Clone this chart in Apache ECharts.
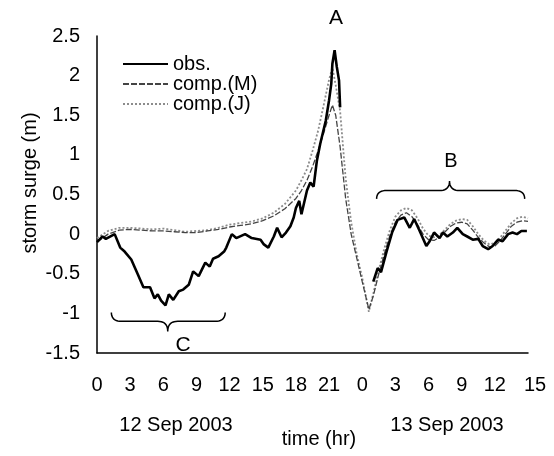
<!DOCTYPE html>
<html>
<head>
<meta charset="utf-8">
<script src="https://cdn.jsdelivr.net/npm/echarts@6/dist/echarts.min.js"></script>
<style>
  html, body { margin: 0; padding: 0; background: #fff; }
  #chart { width: 554px; height: 456px; }
</style>
</head>
<body>
<div id="chart"></div>
<script>
// hours counted from 0:00 on 12 Sep 2003 (24 = 0:00 on 13 Sep)
const obsHours = [0, 0.5, 0.8, 1.6, 2.1, 2.5, 3.1, 3.7, 4.2, 4.8, 5.2, 5.5, 5.8, 6.2, 6.5, 6.9, 7.4, 7.8, 8.3, 8.7,
  9.2, 9.8, 10.2, 10.5, 11.0, 11.5, 11.7, 12.2, 12.6, 13.4, 14.0, 14.8, 15.1, 15.5, 16.0, 16.3, 16.7, 17.1, 17.5, 17.8,
  18.0, 18.3, 18.5, 19.0, 19.3, 19.6, 19.9, 20.2, 20.7, 21.0, 21.2, 21.3, 21.5, 21.7, 21.9, 22.0, 23.5,
  25.0, 25.4, 25.7, 26.2, 26.7, 27.2, 27.8, 28.3, 28.7, 29.2, 29.8, 30.1, 30.5, 31.0, 31.3, 31.7, 32.2, 32.6,
  33.1, 33.5, 34.0, 34.5, 34.9, 35.4, 35.8, 36.3, 36.7, 37.2, 37.6, 38.0, 38.4, 38.9];
const obsValues = [-0.1, -0.03, -0.06, 0, -0.17, -0.22, -0.32, -0.51, -0.67, -0.67, -0.81, -0.76, -0.84, -0.9, -0.76, -0.83, -0.72, -0.7, -0.64, -0.47,
  -0.53, -0.36, -0.41, -0.31, -0.28, -0.22, -0.17, 0.0, -0.05, 0, -0.05, -0.07, -0.13, -0.17, -0.03, 0.08, -0.04, 0.02, 0.1, 0.21,
  0.33, 0.42, 0.25, 0.55, 0.65, 0.6, 0.93, 1.14, 1.43, 1.69, 1.9, 2.15, 2.32, 2.11, 1.94, 1.6, null,
  -0.6, -0.43, -0.48, -0.22, 0.02, 0.18, 0.21, 0.08, 0.19, 0.04, -0.15, -0.09, 0.02, -0.05, 0.02, -0.03, 0.02, 0.08,
  0, -0.03, -0.07, -0.06, -0.15, -0.19, -0.15, -0.07, -0.09, 0, 0.02, 0, 0.04, 0.04];

const compHours = [0, 1, 2, 3, 4, 5, 6, 7, 8, 9, 10, 11, 12, 13, 14, 15, 16, 17, 18, 18.5, 19, 19.5, 20, 20.5, 21, 21.3, 21.6,
  22, 22.5, 23, 23.5, 24, 24.6, 25, 25.5, 26, 26.5, 27, 27.5, 28, 28.5, 29, 29.5, 30, 30.5, 31, 31.5, 32, 32.5,
  33, 33.5, 34, 34.5, 35, 35.5, 36, 36.5, 37, 37.5, 38, 38.5, 39];
const compM = [-0.1, 0.0, 0.05, 0.06, 0.05, 0.04, 0.04, 0.03, 0.02, 0.02, 0.04, 0.06, 0.09, 0.11, 0.13, 0.17, 0.23, 0.32, 0.45, 0.55, 0.68, 0.85, 1.05, 1.27, 1.5, 1.63, 1.5,
  1.1, 0.45, 0.0, -0.3, -0.6, -0.95, -0.78, -0.5, -0.25, -0.02, 0.15, 0.24, 0.27, 0.22, 0.12, 0.0, -0.07, -0.08, -0.04, 0.03, 0.1, 0.14,
  0.15, 0.13, 0.05, -0.04, -0.11, -0.16, -0.15, -0.08, 0.01, 0.1, 0.15, 0.17, 0.16];
const compJ = [-0.05, 0.04, 0.08, 0.08, 0.07, 0.06, 0.07, 0.05, 0.03, 0.04, 0.05, 0.08, 0.12, 0.14, 0.16, 0.2, 0.27, 0.38, 0.55, 0.68, 0.82, 1.05, 1.3, 1.62, 1.95, 2.1, 1.88,
  1.55, 0.7, 0.15, -0.25, -0.55, -0.98, -0.75, -0.45, -0.18, 0.05, 0.22, 0.3, 0.33, 0.3, 0.2, 0.07, -0.02, -0.04, -0.01, 0.06, 0.13, 0.17,
  0.19, 0.18, 0.1, 0.0, -0.08, -0.13, -0.11, -0.04, 0.05, 0.14, 0.2, 0.22, 0.2];

const seriesNames = ['obs.', 'comp.(M)', 'comp.(J)'];
const dayLabels = ['12 Sep 2003', '13 Sep 2003'];
// brace spans: [start hour, centre hour, end hour, level, half height]
const braceB = [25.3, 31.9, 38.7, 0.55, 0.15];
const braceC = [1.3, 6.4, 11.6, -1.1, 0.16];

const FONT = 'Liberation Sans, Arial, sans-serif';
const pairs = (xs, ys) => xs.map((x, i) => [x, ys[i] == null ? '-' : ys[i]]);

const chart = echarts.init(document.getElementById('chart'));
chart.setOption({
  animation: false,
  textStyle: { fontFamily: FONT, color: '#000' },
  grid: { left: 97, right: 26, top: 36, bottom: 103 },
  legend: {
    orient: 'vertical',
    left: 117,
    top: 49,
    itemWidth: 45,
    itemHeight: 14,
    itemGap: 0,
    itemStyle: { opacity: 0 },
    textStyle: { fontSize: 20, lineHeight: 20, fontFamily: FONT, color: '#000' },
    data: seriesNames,
  },
  xAxis: {
    type: 'value',
    min: 0,
    max: 39,
    interval: 3,
    splitLine: { show: false },
    axisTick: { show: false },
    axisLine: { onZero: false, lineStyle: { color: '#000', width: 1.5 } },
    axisLabel: {
      margin: 22,
      fontSize: 20,
      color: '#000',
      fontFamily: FONT,
      hideOverlap: false,
      formatter: (v) => (v === 39 ? '{last|' + (v % 24) + '}' : String(v % 24)),
      rich: { last: { fontSize: 20, fontFamily: FONT, color: '#000', padding: [0, 0, 0, 14] } },
    },
  },
  yAxis: {
    type: 'value',
    min: -1.5,
    max: 2.5,
    interval: 0.5,
    splitLine: { show: false },
    axisTick: { show: false },
    axisLine: { show: true, onZero: false, lineStyle: { color: '#000', width: 1.5 } },
    axisLabel: { margin: 17, fontSize: 20, color: '#000', fontFamily: FONT },
  },
  series: [
    {
      name: seriesNames[2],
      type: 'line',
      symbol: 'none',
      z: 2,
      lineStyle: { color: '#8c8c8c', width: 1.8, type: [2, 2] },
      itemStyle: { color: '#8c8c8c' },
      data: pairs(compHours, compJ),
    },
    {
      name: seriesNames[1],
      type: 'line',
      symbol: 'none',
      z: 3,
      lineStyle: { color: '#444', width: 1.3, type: [6, 2] },
      itemStyle: { color: '#444' },
      data: pairs(compHours, compM),
    },
    {
      name: seriesNames[0],
      type: 'line',
      symbol: 'none',
      z: 4,
      connectNulls: false,
      lineStyle: { color: '#000', width: 2.6 },
      itemStyle: { color: '#000' },
      data: pairs(obsHours, obsValues),
    },
  ],
});

// curly braces and annotation text, placed from data coordinates
const px = (x, y) => chart.convertToPixel({ gridIndex: 0 }, [x, y]);
function quad(p0, c, p1, out) {
  for (let t = 0; t <= 1.0001; t += 0.1) {
    const a = (1 - t) * (1 - t), b = 2 * (1 - t) * t, d = t * t;
    out.push([a * p0[0] + b * c[0] + d * p1[0], a * p0[1] + b * c[1] + d * p1[1]]);
  }
}
function bracePoints(b, up) {
  const x1 = px(b[0], 0)[0];
  const xc = px(b[1], 0)[0];
  const x2 = px(b[2], 0)[0];
  const yMid = px(0, b[3])[1];
  const h = px(0, b[3] - b[4])[1] - yMid;
  const s = up ? 1 : -1;
  const yEnd = yMid + s * h * 0.7;
  const yCusp = yMid - s * h * 0.8;
  const r = 10;
  const pts = [];
  quad([x1, yEnd], [x1, yMid], [x1 + r, yMid], pts);
  quad([xc - r, yMid], [xc, yMid], [xc, yCusp], pts);
  quad([xc, yCusp], [xc, yMid], [xc + r, yMid], pts);
  quad([x2 - r, yMid], [x2, yMid], [x2, yEnd], pts);
  return pts;
}
const text = (t, x, y, size, extra) => Object.assign({
  type: 'text', x, y, z: 10,
  style: { text: t, fontSize: size, fontFamily: FONT, fill: '#000', align: 'center', verticalAlign: 'middle' },
}, extra || {});

chart.setOption({
  graphic: [
    { type: 'polyline', z: 10, shape: { points: bracePoints(braceB, true) }, style: { fill: null, stroke: '#000', lineWidth: 1.5 } },
    { type: 'polyline', z: 10, shape: { points: bracePoints(braceC, false) }, style: { fill: null, stroke: '#000', lineWidth: 1.5 } },
    text('A', 336, 18, 21),
    text('B', 451, 161, 20),
    text('C', 183, 345, 21),
    text(dayLabels[0], 176, 425, 20),
    text(dayLabels[1], 447, 425, 20),
    text('time (hr)', 319, 439, 20),
    text('storm surge (m)', 30, 183, 20, { rotation: Math.PI / 2 }),
  ],
});
</script>
</body>
</html>
